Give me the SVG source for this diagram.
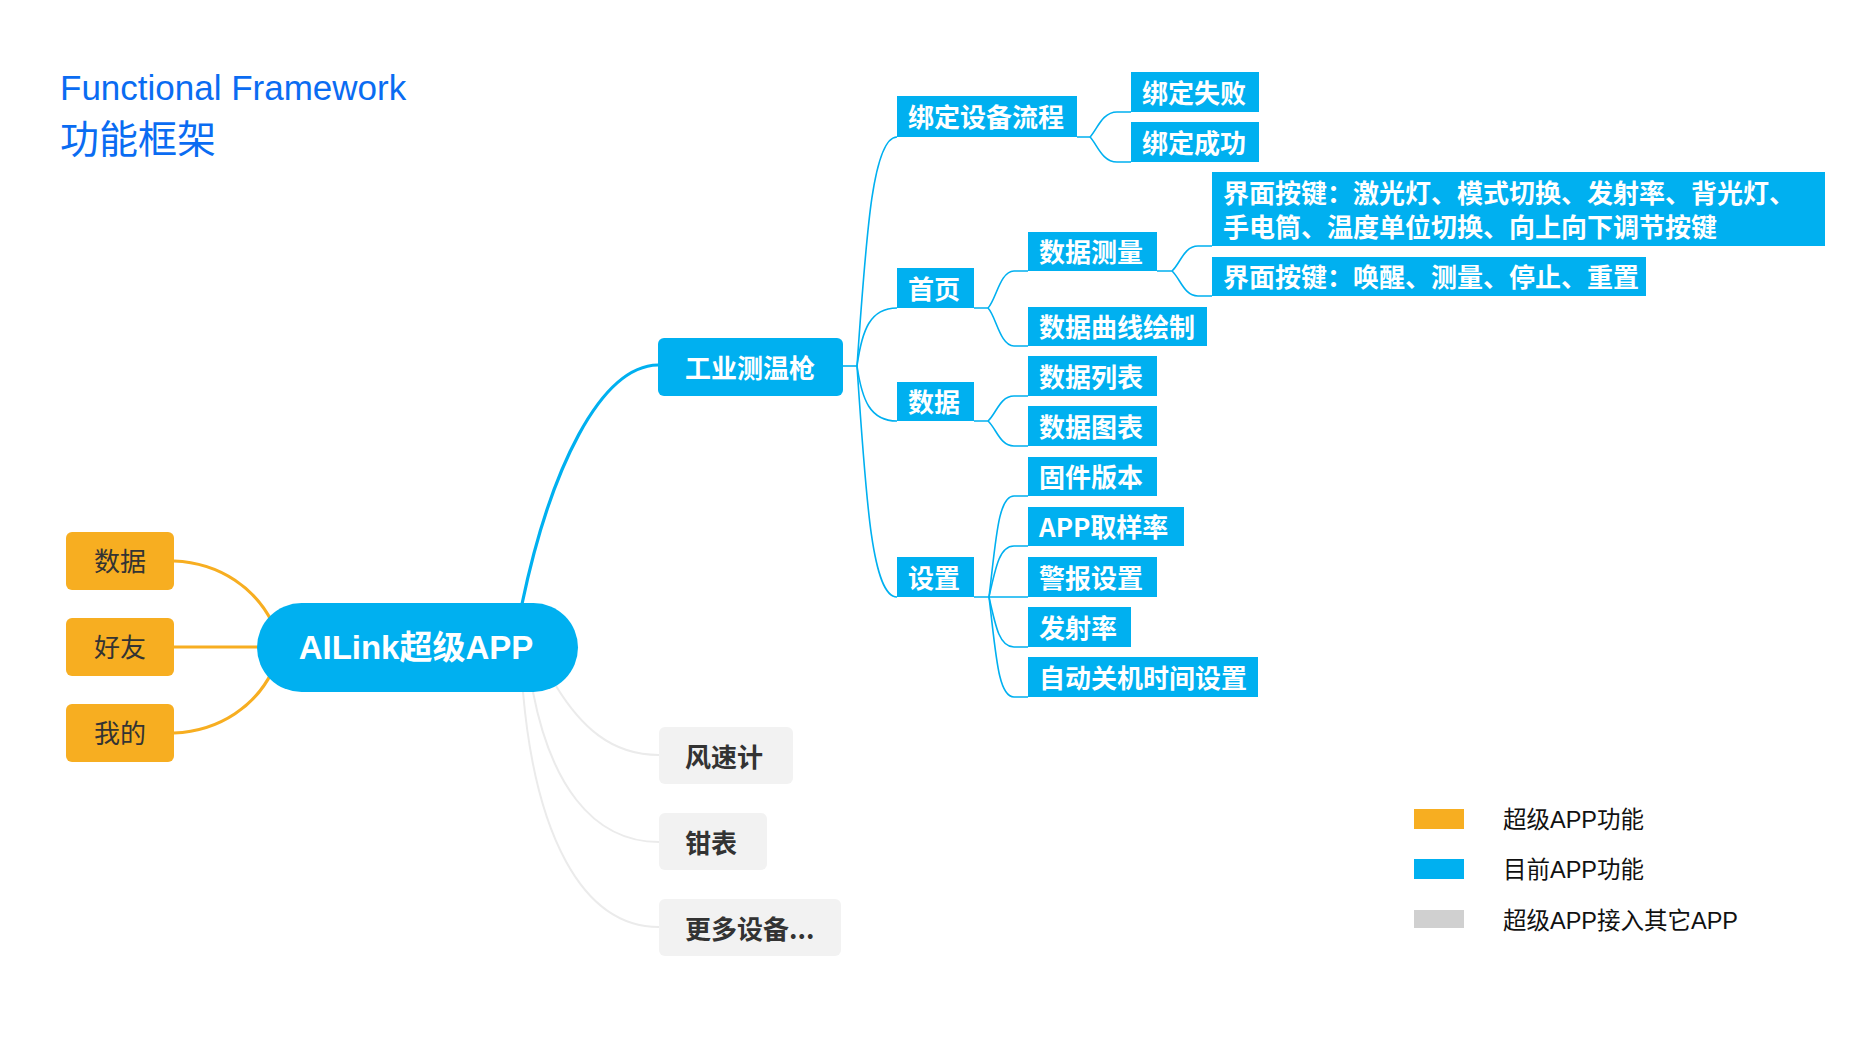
<svg xmlns="http://www.w3.org/2000/svg" width="1867" height="1050" viewBox="0 0 1867 1050">
<style>
.b{fill:#00B0F0}
.o{fill:#F7AE21}
.g{fill:#F2F2F2}
.tw{fill:#fff;font-family:"Noto Sans CJK SC","Liberation Sans",sans-serif;font-weight:bold;font-size:26px}
.td{fill:#333;font-family:"Noto Sans CJK SC","Liberation Sans",sans-serif;font-size:26px}
.lg{fill:#111;font-family:"Liberation Sans","Noto Sans CJK SC",sans-serif;font-size:23.5px}
.cb{fill:none;stroke:#00B0F0;stroke-width:1.6}
.cb1{fill:none;stroke:#00B0F0;stroke-width:3.2}
.co{fill:none;stroke:#F7AE21;stroke-width:3.2}
.cg{fill:none;stroke:#EBEBEB;stroke-width:2}
</style>
<rect width="1867" height="1050" fill="#fff"/>
<g id="title">
<text x="60" y="100" fill="#0A6CF2" font-family="Liberation Sans, sans-serif" font-size="35">Functional Framework</text>
<text x="60" y="153" fill="#0A6CF2" font-family="Noto Sans CJK SC, sans-serif" font-size="39">功能框架</text>
</g>
<g id="connectors">
<path class="co" d="M174,561 C222,563 256,590 272,622"/>
<path class="co" d="M174,647 H258"/>
<path class="co" d="M174,733 C222,731 256,704 272,672"/>
<path class="cb1" d="M522,604 C550,470 600,366 658,365"/>
<path class="cg" d="M556,686 C580,725 610,755 659,755"/>
<path class="cg" d="M533,692 C550,780 590,842 659,842"/>
<path class="cg" d="M523,692 C535,830 580,927 659,927"/>
<path class="cb" d="M843,366 H857"/>
<path class="cb" d="M857,366 C866,240 872,137 897,137"/>
<path class="cb" d="M857,366 C862,330 870,308 897,308"/>
<path class="cb" d="M857,366 C862,400 870,421 897,421"/>
<path class="cb" d="M857,366 C866,500 872,597 897,597"/>
<path class="cb" d="M1077,137 H1090 C1097,130 1102,112 1117,112 H1131"/>
<path class="cb" d="M1090,137 C1097,144 1102,162 1117,162 H1131"/>
<path class="cb" d="M974,308 H988 C996,300 1000,271 1014,271 H1028"/>
<path class="cb" d="M988,308 C996,316 1000,346 1014,346 H1028"/>
<path class="cb" d="M1157,271 H1172 C1180,264 1184,246 1198,246 H1212"/>
<path class="cb" d="M1172,271 C1180,278 1184,296 1198,296 H1212"/>
<path class="cb" d="M974,421 H988 C996,414 1000,396 1014,396 H1028"/>
<path class="cb" d="M988,421 C996,428 1000,446 1014,446 H1028"/>
<path class="cb" d="M974,597 H1028"/>
<path class="cb" d="M989,597 C996,540 998,496 1014,496 H1028"/>
<path class="cb" d="M989,597 C996,565 1000,546 1014,546 H1028"/>
<path class="cb" d="M989,597 C996,629 1000,647 1014,647 H1028"/>
<path class="cb" d="M989,597 C996,654 998,697 1014,697 H1028"/>
</g>
<g id="n-root">
<rect x="257" y="603" width="321" height="89" rx="44.5" class="b"/>
<text x="416" y="659" text-anchor="middle" fill="#fff" font-family="Liberation Sans, Noto Sans CJK SC, sans-serif" font-weight="bold" font-size="33">AILink超级APP</text>
</g>
<g id="n-data"><rect x="66" y="532" width="108" height="58" rx="6" class="o"/><text x="120" y="571" text-anchor="middle" class="td">数据</text></g>
<g id="n-friend"><rect x="66" y="618" width="108" height="58" rx="6" class="o"/><text x="120" y="657" text-anchor="middle" class="td">好友</text></g>
<g id="n-mine"><rect x="66" y="704" width="108" height="58" rx="6" class="o"/><text x="120" y="743" text-anchor="middle" class="td">我的</text></g>
<g id="n-gun"><rect x="658" y="338" width="185" height="58" rx="6" class="b"/><text x="750" y="378" text-anchor="middle" class="tw" font-size="27">工业测温枪</text></g>
<g id="n-anemo"><rect x="659" y="727" width="134" height="57" rx="6" class="g"/><text x="685" y="767" class="td" font-weight="bold">风速计</text></g>
<g id="n-clamp"><rect x="659" y="813" width="108" height="57" rx="6" class="g"/><text x="685" y="853" class="td" font-weight="bold">钳表</text></g>
<g id="n-more"><rect x="659" y="899" width="182" height="57" rx="6" class="g"/><text x="685" y="939" class="td" font-weight="bold">更多设备...</text></g>
<g id="n-bind"><rect x="897" y="96" width="180" height="41" class="b"/><text x="908" y="127" class="tw">绑定设备流程</text></g>
<g id="n-bindfail"><rect x="1131" y="72" width="128" height="40" class="b"/><text x="1142" y="103" class="tw">绑定失败</text></g>
<g id="n-bindok"><rect x="1131" y="122" width="128" height="40" class="b"/><text x="1142" y="153" class="tw">绑定成功</text></g>
<g id="n-home"><rect x="897" y="268" width="77" height="40" class="b"/><text x="908" y="299" class="tw">首页</text></g>
<g id="n-measure"><rect x="1028" y="232" width="129" height="39" class="b"/><text x="1039" y="262" class="tw">数据测量</text></g>
<g id="n-keys1"><rect x="1212" y="172" width="613" height="74" class="b"/><text class="tw" font-size="25"><tspan x="1223" y="203">界面按键：激光灯、模式切换、发射率、背光灯、</tspan><tspan x="1223" y="237">手电筒、温度单位切换、向上向下调节按键</tspan></text></g>
<g id="n-keys2"><rect x="1212" y="257" width="434" height="39" class="b"/><text x="1223" y="287" class="tw" font-size="25">界面按键：唤醒、测量、停止、重置</text></g>
<g id="n-curve"><rect x="1028" y="307" width="179" height="39" class="b"/><text x="1039" y="337" class="tw">数据曲线绘制</text></g>
<g id="n-data2"><rect x="897" y="382" width="77" height="39" class="b"/><text x="908" y="412" class="tw">数据</text></g>
<g id="n-list"><rect x="1028" y="356" width="129" height="40" class="b"/><text x="1039" y="387" class="tw">数据列表</text></g>
<g id="n-chart"><rect x="1028" y="406" width="129" height="40" class="b"/><text x="1039" y="437" class="tw">数据图表</text></g>
<g id="n-settings"><rect x="897" y="557" width="77" height="40" class="b"/><text x="908" y="588" class="tw">设置</text></g>
<g id="n-fw"><rect x="1028" y="457" width="129" height="39" class="b"/><text x="1039" y="487" class="tw">固件版本</text></g>
<g id="n-rate"><rect x="1028" y="507" width="156" height="39" class="b"/><text x="1039" y="537" class="tw">APP取样率</text></g>
<g id="n-alarm"><rect x="1028" y="557" width="129" height="40" class="b"/><text x="1039" y="588" class="tw">警报设置</text></g>
<g id="n-emis"><rect x="1028" y="607" width="103" height="40" class="b"/><text x="1039" y="638" class="tw">发射率</text></g>
<g id="n-auto"><rect x="1028" y="657" width="230" height="40" class="b"/><text x="1039" y="688" class="tw">自动关机时间设置</text></g>
<g id="legend">
<rect x="1414" y="809" width="50" height="20" class="o"/>
<text x="1503" y="828" class="lg">超级APP功能</text>
<rect x="1414" y="859" width="50" height="20" class="b"/>
<text x="1503" y="878" class="lg">目前APP功能</text>
<rect x="1414" y="910" width="50" height="18" fill="#D0D0D0"/>
<text x="1503" y="929" class="lg">超级APP接入其它APP</text>
</g>
</svg>
